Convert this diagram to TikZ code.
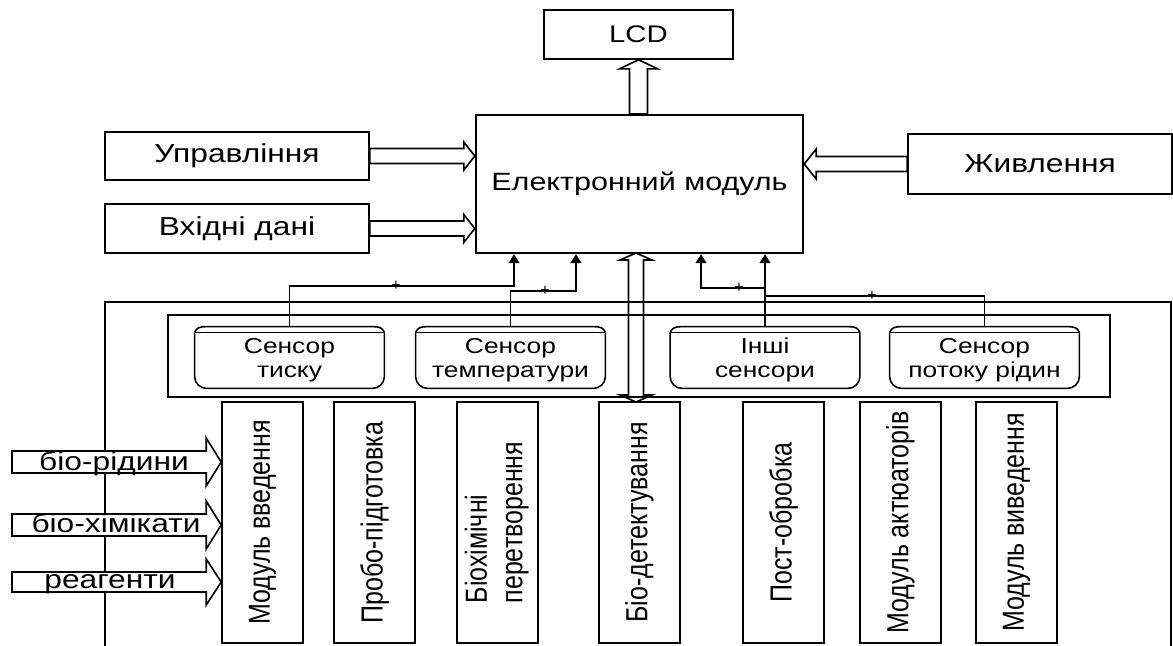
\documentclass[tikz,border=0pt]{standalone}
\usepackage{fontspec}
\setmainfont{Liberation Sans}
\usepackage{graphicx}
\usetikzlibrary{calc,arrows.meta}
\newcommand{\hst}[1]{\scalebox{1.22}[1]{#1}}
\newcommand{\vst}[1]{\rotatebox{90}{\scalebox{1}[1.22]{#1}}}
% horizontal block arrow: #2 tail, #3 tip, #4 half shaft, #5 half head, #6 head length (signed)
\newcommand{\harr}[6][]{%
  \draw[barrow,#1] ($(#2)+(0,#4)$) -- ($(#3)+({-(#6)},#4)$) -- ($(#3)+({-(#6)},#5)$) -- (#3)
   -- ($(#3)+({-(#6)},{-(#5)})$) -- ($(#3)+({-(#6)},{-(#4)})$) -- ($(#2)+(0,{-(#4)})$) -- cycle;}
% vertical block arrow
\newcommand{\varr}[5]{%
  \draw[barrow] ($(#1)+(#3,0)$) -- ($(#2)+(#3,{-(#5)})$) -- ($(#2)+(#4,{-(#5)})$) -- (#2)
   -- ($(#2)+({-(#4)},{-(#5)})$) -- ($(#2)+({-(#3)},{-(#5)})$) -- ($(#1)+({-(#3)},0)$) -- cycle;}
\begin{document}
\begin{tikzpicture}[x=0.5pt,y=-0.5pt,
  ln/.style={line width=0.8pt},
  box/.style={draw,line width=0.8pt,inner sep=0pt},
  big/.style={font=\fontsize{13}{15}\selectfont},
  barrow/.style={draw,line width=0.8pt,line join=miter},
  conn/.style={line width=0.8pt,-{Triangle[width=5.5pt,length=4.5pt]}},
  sens/.style={inner sep=0pt,minimum width=94.5pt,minimum height=27.5pt,font=\fontsize{10.8}{12}\selectfont},
  vbox/.style={box,minimum width=40.5pt,minimum height=120.5pt,font=\fontsize{12.5}{14.5}\selectfont},
  plus/.style={font=\fontsize{8}{8}\selectfont,inner sep=0pt},
  inlab/.style={font=\fontsize{13}{15}\selectfont,inner sep=0pt,anchor=base}]
\useasboundingbox (0,0) rectangle (1173,645);

% top part
\node[box,font=\fontsize{12}{14}\selectfont,minimum width=94.5pt,minimum height=24.5pt] (lcd) at (638.5,34.5) {\hst{LCD}};
\node[box,line width=1.2pt,minimum width=163.5pt,minimum height=69pt,font=\fontsize{12.5}{14}\selectfont] (em) at (639.5,184) {\hst{Електронний модуль}};
\node[box,big,minimum width=132pt,minimum height=24pt] (upr) at (237,156) {\hst{Управління}};
\node[box,big,minimum width=132pt,minimum height=24.5pt] (vhid) at (237,228.5) {\hst{Вхідні дані}};
\node[box,big,minimum width=132pt,minimum height=30pt] (zhyv) at (1040,164) {\hst{Живлення}};

\varr{em.north -| lcd.south}{lcd.south}{9}{19}{-9}
\harr{upr.east}{upr.east -| em.west}{7.5}{14}{11}
\harr{vhid.east}{vhid.east -| em.west}{7.5}{14}{11}
\harr{zhyv.west}{zhyv.west -| em.east}{7.5}{15}{-12}

% frames
\draw[line width=1.2pt] (105,660) -- (105,302) -- (1171,302) -- (1171,660);
\node[box,minimum width=471pt,minimum height=41pt] (sframe) at (639,356) {};

% sensors
\node[sens] (s1) at (289.5,360.5) {\hst{\begin{tabular}{@{}c@{}}Сенсор\\тиску\end{tabular}}};
\node[sens] (s2) at (510.5,360.5) {\hst{\begin{tabular}{@{}c@{}}Сенсор\\температури\end{tabular}}};
\node[sens] (s3) at (765,360.5) {\hst{\begin{tabular}{@{}c@{}}Інші\\сенсори\end{tabular}}};
\node[sens] (s4) at (984.5,360.5) {\hst{\begin{tabular}{@{}c@{}}Сенсор\\потоку рідин\end{tabular}}};
\foreach \n in {s1,s2,s3,s4}{
  \draw[ln,rounded corners=6pt] (\n.north west) -- (\n.south west) -- (\n.south east) -- (\n.north east);
  \draw[ln] (\n.north west) -- (\n.north east);
  \draw[ln] (\n.north west) .. controls ($(\n.north west)+(2,-5)$) and ($(\n.north west)+(5,-6)$) .. ($(\n.north west)+(12,-6)$)
     -- ($(\n.north east)+(-12,-6)$) .. controls ($(\n.north east)+(-5,-6)$) and ($(\n.north east)+(-2,-5)$) .. (\n.north east);
}

% sensor connectors
\coordinate (j1) at (514,286);
\coordinate (j2) at (576,291);
\coordinate (j3) at (701,288);
\coordinate (j4) at (765,296);
\draw[conn] ([yshift=3pt]s1.north) |- (j1) -- (j1 |- em.south);
\draw[conn] ([yshift=3pt]s2.north) |- (j2) -- (j2 |- em.south);
\draw[conn] ([yshift=3pt]s3.north) |- (j3) -- (j3 |- em.south);
\draw[conn] ([yshift=3pt]s4.north) |- (j4) -- (j4 |- em.south);
\node[plus] (p1) at (396,286) {+};
\node[plus] (p2) at (545,291) {+};
\node[plus] (p3) at (739,288) {+};
\node[plus] (p4) at (872,296) {+};

% process modules
\node[vbox] (m1) at (262.5,522.5) {\vst{Модуль введення}};
\node[vbox] (m2) at (374.5,522.5) {\vst{Пробо-підготовка}};
\node[vbox] (m3) at (497.5,522.5) {\vst{\begin{tabular}{@{}l@{}}Біохімічні\\перетворення\end{tabular}}};
\node[vbox] (m4) at (639.5,522.5) {\vst{Біо-детектування}};
\node[vbox] (m5) at (783.5,522.5) {\vst{Пост-обробка}};
\node[vbox] (m6) at (900.5,522.5) {\vst{Модуль актюаторів}};
\node[vbox] (m7) at (1016.5,522.5) {\vst{Модуль виведення}};

% double arrow between electronic module and bio-detection
\coordinate (dt) at (636,253);
\coordinate (db) at (636,402);
\draw[barrow] (dt) -- ($(dt)+(16,7)$) -- ($(dt)+(7.5,7)$) -- ($(db)+(7.5,-7)$) -- ($(db)+(16,-7)$) -- (db)
  -- ($(db)+(-16,-7)$) -- ($(db)+(-7.5,-7)$) -- ($(dt)+(-7.5,7)$) -- ($(dt)+(-16,7)$) -- cycle;

% input arrows
\coordinate (a1) at (12,462);
\coordinate (a2) at (12,525);
\coordinate (a3) at (12,582);
\harr[fill=white]{a1}{a1 -| m1.west}{11}{24}{15}
\harr[fill=white]{a2}{a2 -| m1.west}{11}{24}{15}
\harr[fill=white]{a3}{a3 -| m1.west}{10}{23}{15}
\node[inlab] (l1) at (114,470) {\hst{біо-рідини}};
\node[inlab] (l2) at (116,532) {\hst{біо-хімікати}};
\node[inlab] (l3) at (110,588) {\hst{реагенти}};
\end{tikzpicture}
\end{document}
